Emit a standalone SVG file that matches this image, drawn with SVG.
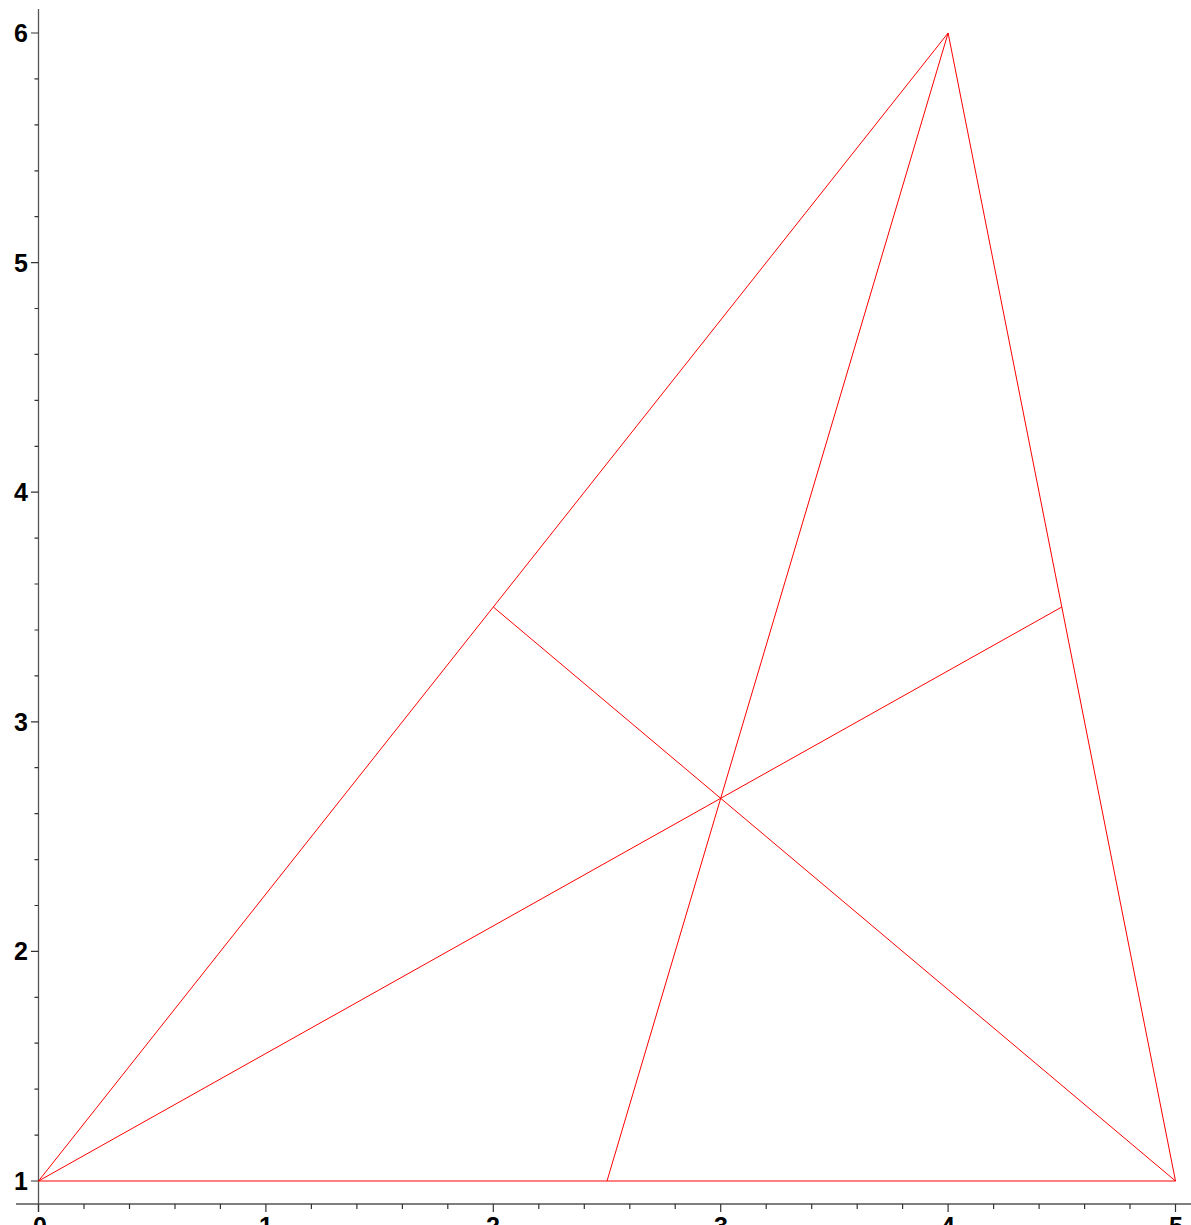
<svg xmlns="http://www.w3.org/2000/svg" width="1191" height="1225" viewBox="0 0 1191 1225">
<style>
.ax{stroke:#555;stroke-width:1.3;fill:none}
.tk{stroke:#333;stroke-width:1.2;fill:none}
.ln{stroke:#ff0000;stroke-width:1;fill:none}
.yl{font-family:"Liberation Sans",Arial,sans-serif;font-weight:bold;font-size:25px;fill:#000;text-anchor:end}
.xl{font-family:"Liberation Sans",Arial,sans-serif;font-weight:bold;font-size:25px;fill:#000;text-anchor:middle}
</style>
<rect width="1191" height="1225" fill="#fff"/>
<g id="axes">
<line class="ax" x1="38.5" y1="9" x2="38.5" y2="1212"/>
<line class="ax" x1="16" y1="1204" x2="1191" y2="1204"/>
<path class="tk" d="M31 33H38.5M31 262.6H38.5M31 492.2H38.5M31 721.8H38.5M31 951.4H38.5M31 1181H38.5
M34.5 78.9H38.5M34.5 124.8H38.5M34.5 170.8H38.5M34.5 216.7H38.5
M34.5 308.5H38.5M34.5 354.4H38.5M34.5 400.4H38.5M34.5 446.3H38.5
M34.5 538.1H38.5M34.5 584H38.5M34.5 630H38.5M34.5 675.9H38.5
M34.5 767.7H38.5M34.5 813.6H38.5M34.5 859.6H38.5M34.5 905.5H38.5
M34.5 997.3H38.5M34.5 1043.2H38.5M34.5 1089.2H38.5M34.5 1135.1H38.5"/>
<path class="tk" d="M38.5 1204V1212M265.9 1204V1212M493.3 1204V1212M720.7 1204V1212M948.1 1204V1212M1175.5 1204V1212
M84 1204V1209M129.5 1204V1209M175 1204V1209M220.4 1204V1209
M311.4 1204V1209M356.9 1204V1209M402.4 1204V1209M447.8 1204V1209
M538.8 1204V1209M584.3 1204V1209M629.8 1204V1209M675.2 1204V1209
M766.2 1204V1209M811.7 1204V1209M857.2 1204V1209M902.6 1204V1209
M993.6 1204V1209M1039.1 1204V1209M1084.6 1204V1209M1130 1204V1209"/>
<text class="yl" x="28" y="42">6</text>
<text class="yl" x="28" y="272">5</text>
<text class="yl" x="28" y="501">4</text>
<text class="yl" x="28" y="731">3</text>
<text class="yl" x="28" y="960">2</text>
<text class="yl" x="28" y="1190">1</text>
<text class="xl" x="40" y="1235">0</text>
<text class="xl" x="266" y="1235">1</text>
<text class="xl" x="493" y="1235">2</text>
<text class="xl" x="721" y="1235">3</text>
<text class="xl" x="948" y="1235">4</text>
<text class="xl" x="1176" y="1235">5</text>
</g>
<g id="connectors">
<polygon class="ln" points="38.5,1181 1175.5,1181 948.1,33"/>
<line class="ln" x1="38.5" y1="1181" x2="1061.8" y2="607"/>
<line class="ln" x1="1175.5" y1="1181" x2="493.3" y2="607"/>
<line class="ln" x1="948.1" y1="33" x2="607" y2="1181"/>
</g>
</svg>
